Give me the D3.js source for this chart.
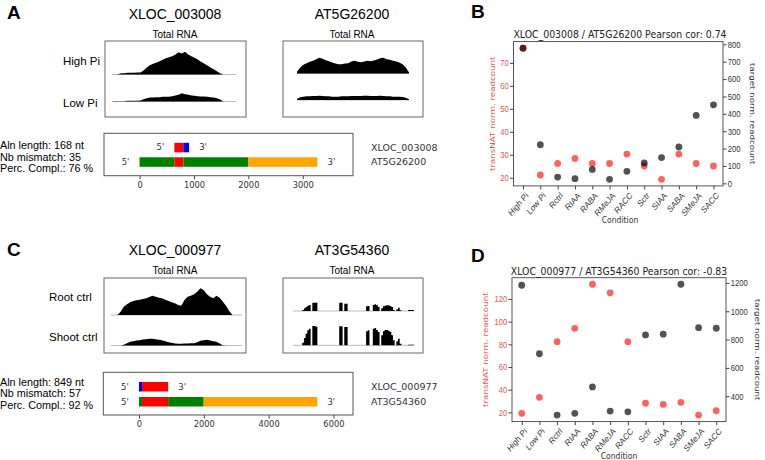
<!DOCTYPE html>
<html>
<head>
<meta charset="utf-8">
<script src="https://cdn.jsdelivr.net/npm/d3@7"></script>
<style>
  body { margin: 0; background: #fff; }
  svg { display: block; }
</style>
</head>
<body>
<div id="fig"></div>
<script>
// ---- data ----
const conditions = ["High Pi", "Low Pi", "Rctrl", "RIAA", "RABA", "RMeJA", "RACC", "Sctr", "SIAA", "SABA", "SMeJA", "SACC"];

// panel B : XLOC_003008 / AT5G26200
const natB = [76.4, 21.2, 26.2, 28.4, 26.2, 26.2, 30.3, 25.1, 19.3, 30.3, 26.2, 25.1];
const targetB = [778, 222, 36, 27, 80, 23, 69, 117, 148, 209, 391, 452];
const natTicksB = [20, 30, 40, 50, 60, 70];
const targetTicksB = [0, 100, 200, 300, 400, 500, 600, 700, 800];

// panel D : XLOC_000977 / AT3G54360
const natD = [19.1, 33.2, 82.3, 94.1, 133, 125.4, 82.3, 28, 27, 28.8, 17.6, 21.4];
const targetD = [1184, 700, 267, 279, 466, 295, 290, 833, 838, 1191, 884, 880];
const natTicksD = [20, 40, 60, 80, 100, 120];
const targetTicksD = [400, 600, 800, 1000, 1200];

// coverage profiles (binned read coverage along each locus)
const covA_natHigh = [0,0,1,4,4,5,5,5,6,6,12,21,28,32,35,40,44,49,52,55,60,67,63,68,60,55,50,45,38,33,27,21,16,10,4,0,0,0,0,0];
const covA_natLow = [0,1,1,1,1,2,2,2,2,3,7,10,12,12,13,13,14,14,14,16,18,20,25,22,20,18,17,16,15,15,14,13,12,10,6,0,0,0,0,0];
const covA_tgtHigh = [5,18,26,31,35,38,43,47,44,40,37,33,30,28,28,30,31,36,38,35,34,36,38,37,39,42,46,47,43,41,38,36,33,28,18,3];
const covA_tgtLow = [3,8,10,11,11,12,12,13,12,11,11,10,10,10,11,11,11,12,12,12,12,13,13,12,12,12,13,12,11,11,10,10,10,9,7,2];

const covC_natRoot = [0,0,0,10,25,32,38,42,44,46,48,50,54,58,55,52,50,46,42,38,35,30,28,45,55,58,62,70,80,75,62,55,50,58,52,40,28,12,0,0,0,0];
const covC_natShoot = [0,0,0,0,2,7,11,13,15,16,18,19,20,20,19,17,16,13,10,8,6,5,5,6,6,7,7,10,14,16,17,15,13,11,6,1,0,0,0,0,0,0];
const covC_tgtRoot = [0,0,0,0,0,0, 3,8,12,16,18,0,25,25,25,0, 0,0,0,0,0,0,0,0,0,0,0,0, 25,25,0,22,22,0, 0,0,0,0,0,0,0,0,0,0,
  14,15,0,0,18,20,17,12,0,8,14,16,17,17,15,12,3,0,5,10,2,0,0,0,0,3,3,3,3];
const covC_tgtShoot = [0,0,0,0,0,0, 8,22,35,45,50,0,58,58,56,0, 0,0,0,0,0,0,0,0,0,0,0,0, 57,57,0,55,55,0, 0,0,0,0,0,0,0,0,0,0,
  42,45,0,0,50,52,46,40,0,30,42,46,46,44,40,30,15,0,12,20,5,0,0,0,0,2,2,2,2];

// alignments: [start, end, kind]
const alnA_nat = [[640, 805, "aligned"], [805, 910, "unaligned"]];
const alnA_tgt = [[0, 640, "cds"], [640, 805, "aligned"], [805, 2000, "cds"], [2000, 3270, "utr"]];
const alnA_ticks = [0, 1000, 2000, 3000];
const alnA_text = ["Aln length: 168 nt", "Nb mismatch: 35", "Perc. Compl.: 76 %"];

const alnC_nat = [[0, 93, "unaligned"], [93, 900, "aligned"]];
const alnC_tgt = [[0, 93, "cds"], [93, 900, "aligned"], [900, 1996, "cds"], [1996, 5503, "utr"]];
const alnC_ticks = [0, 2000, 4000, 6000];
const alnC_text = ["Aln length: 849 nt", "Nb mismatch: 57", "Perc. Compl.: 92 %"];

// ---- drawing ----
const W = 765, H = 460;
const SANS = "'Liberation Sans', Arial, sans-serif";
const MPL = "'DejaVu Sans', sans-serif";
const SX = 0.85; // panels B and D are squeezed horizontally
const RED_TXT = "#e05858";
const intFmt = d3.format("d");

const svg = d3.select("#fig").append("svg")
  .attr("width", W).attr("height", H)
  .style("font-family", SANS);

function letter(x, y, s) {
  svg.append("text").attr("x", x).attr("y", y).text(s)
    .attr("font-size", 19).attr("font-weight", "bold").attr("fill", "#000");
}
letter(7, 18.5, "A");
letter(7, 255.5, "C");
letter(471, 17.5, "B");
letter(471, 262, "D");

// coverage tracks
const cov = d3.scaleLinear().domain([0, 90]).range([0, 30]);

function track(g, vals, x0, x1, base, curve) {
  const x = d3.scaleLinear().domain([0, vals.length - 1]).range([x0, x1]);
  g.append("line").attr("x1", x0).attr("x2", x1).attr("y1", base).attr("y2", base)
    .attr("stroke", "#bbb").attr("stroke-width", 1);
  g.append("path").datum(vals)
    .attr("d", d3.area().x((d, i) => x(i)).y0(base).y1(d => base - cov(d)).curve(curve))
    .attr("fill", "#000");
}

function covPanel(cfg) {
  const g = svg.append("g");
  g.append("text").attr("x", cfg.cx).attr("y", cfg.titleY).attr("text-anchor", "middle")
    .attr("font-size", 14).text(cfg.title);
  g.append("text").attr("x", cfg.cx).attr("y", cfg.titleY + 19).attr("text-anchor", "middle")
    .attr("font-size", 10).text("Total RNA");
  g.append("rect").attr("x", cfg.bx0).attr("y", cfg.by0)
    .attr("width", cfg.bx1 - cfg.bx0).attr("height", cfg.by1 - cfg.by0)
    .attr("fill", "none").attr("stroke", "#666").attr("stroke-width", 1);
  track(g, cfg.top, cfg.tx0, cfg.tx1, cfg.base1, cfg.curve);
  track(g, cfg.bottom, cfg.tx0, cfg.tx1, cfg.base2, cfg.curve);
}

covPanel({ title: "XLOC_003008", cx: 175, titleY: 18.5, bx0: 105, bx1: 246, by0: 41, by1: 117,
  tx0: 111.7, tx1: 236, base1: 74.5, base2: 101.5, top: covA_natHigh, bottom: covA_natLow, curve: d3.curveLinear });
covPanel({ title: "AT5G26200", cx: 352, titleY: 18.5, bx0: 283, bx1: 423, by0: 41, by1: 117,
  tx0: 297, tx1: 409, base1: 73.5, base2: 100, top: covA_tgtHigh, bottom: covA_tgtLow, curve: d3.curveLinear });
covPanel({ title: "XLOC_000977", cx: 175, titleY: 255, bx0: 104, bx1: 246, by0: 278, by1: 353,
  tx0: 111, tx1: 242, base1: 315, base2: 345.5, top: covC_natRoot, bottom: covC_natShoot, curve: d3.curveLinear });
covPanel({ title: "AT3G54360", cx: 352, titleY: 255, bx0: 283, bx1: 423, by0: 278, by1: 353,
  tx0: 293, tx1: 414, base1: 311, base2: 345.3, top: covC_tgtRoot, bottom: covC_tgtShoot, curve: d3.curveStep });

[["High Pi", 63, 65], ["Low Pi", 63, 106.5], ["Root ctrl", 49, 301], ["Shoot ctrl", 49, 341]].forEach(([s, x, y]) => {
  svg.append("text").attr("x", x).attr("y", y).attr("font-size", 11.5).text(s);
});

// alignment panels
const segColor = d3.scaleOrdinal(["aligned", "unaligned", "cds", "utr"], ["#ff0000", "#0000ff", "#008000", "#ffa500"]);

function alnPanel(cfg) {
  const g = svg.append("g");
  const len = d3.max(cfg.tgt, d => d[1]);
  const x = d3.scaleLinear().domain([-0.2 * len, 1.2 * len]).range([cfg.x0, cfg.x1]);

  cfg.text.forEach((s, i) => {
    g.append("text").attr("x", 0).attr("y", cfg.textY + i * 11.6).attr("font-size", 10.8).text(s);
  });

  const ax = g.append("g").attr("transform", `translate(0,${cfg.y1})`)
    .call(d3.axisBottom(x).tickValues(cfg.ticks).tickFormat(intFmt).tickSize(3.5).tickPadding(2.5));
  ax.select(".domain").remove();
  ax.selectAll("line").attr("stroke", "#444");
  ax.selectAll("text").attr("font-family", MPL).attr("font-size", 8.3).attr("fill", "#333");

  g.append("rect").attr("x", cfg.x0).attr("y", cfg.y0)
    .attr("width", cfg.x1 - cfg.x0).attr("height", cfg.y1 - cfg.y0)
    .attr("fill", "none").attr("stroke", "#555").attr("stroke-width", 1);

  [[cfg.nat, cfg.row1], [cfg.tgt, cfg.row2]].forEach(([segs, ry]) => {
    g.selectAll(null).data(segs).join("rect")
      .attr("x", d => x(d[0])).attr("width", d => x(d[1]) - x(d[0]))
      .attr("y", ry).attr("height", 9.5)
      .attr("fill", d => segColor(d[2]));
    const s0 = d3.min(segs, d => d[0]), s1 = d3.max(segs, d => d[1]);
    g.append("text").attr("x", x(s0) - 14).attr("y", ry + 7.5).attr("text-anchor", "middle")
      .attr("font-family", MPL).attr("font-size", 8.5).attr("fill", "#333").text("5'");
    g.append("text").attr("x", x(s1) + 14).attr("y", ry + 7.5).attr("text-anchor", "middle")
      .attr("font-family", MPL).attr("font-size", 8.5).attr("fill", "#333").text("3'");
  });

  g.append("text").attr("x", 371).attr("y", cfg.row1 + 8).attr("font-family", MPL)
    .attr("font-size", 9.5).attr("fill", "#333").text(cfg.natName);
  g.append("text").attr("x", 371).attr("y", cfg.row2 + 8).attr("font-family", MPL)
    .attr("font-size", 9.5).attr("fill", "#333").text(cfg.tgtName);
}

alnPanel({ nat: alnA_nat, tgt: alnA_tgt, ticks: alnA_ticks, text: alnA_text, textY: 149,
  x0: 104, x1: 353, y0: 133.3, y1: 175.7, row1: 142.8, row2: 157.3,
  natName: "XLOC_003008", tgtName: "AT5G26200" });
alnPanel({ nat: alnC_nat, tgt: alnC_tgt, ticks: alnC_ticks, text: alnC_text, textY: 385.7,
  x0: 103.3, x1: 353, y0: 372.3, y1: 415, row1: 382, row2: 397,
  natName: "XLOC_000977", tgtName: "AT3G54360" });

// scatter panels
function padded(v) {
  const e = d3.extent(v), p = (e[1] - e[0]) * 0.05;
  return [e[0] - p, e[1] + p];
}

function squeezed(g, x, y, s, size) {
  return g.append("text")
    .attr("transform", `translate(${x},${y}) scale(${SX},1)`)
    .attr("text-anchor", "middle").attr("font-size", size).text(s);
}

function scatter(cfg) {
  const g = svg.append("g").style("font-family", MPL);
  const x = d3.scaleLinear().domain([-0.55, conditions.length - 0.45]).range([cfg.x0, cfg.x1]);
  const yl = d3.scaleLinear().domain(padded(cfg.nat)).range([cfg.y1, cfg.y0]);
  const yr = d3.scaleLinear().domain(padded(cfg.target)).range([cfg.y1, cfg.y0]);

  const axB = g.append("g").attr("transform", `translate(0,${cfg.y1})`)
    .call(d3.axisBottom(x).tickValues(d3.range(conditions.length)).tickFormat(i => conditions[i]).tickSize(3.5));
  axB.selectAll("text").attr("x", 0).attr("y", 0).attr("dy", "0.35em")
    .attr("text-anchor", "end").attr("font-size", 9).attr("fill", "#333")
    .attr("transform", `translate(3.5,8) scale(${SX},1) rotate(-45)`);

  const axL = g.append("g").attr("transform", `translate(${cfg.x0},0)`)
    .call(d3.axisLeft(yl).tickValues(cfg.natTicks).tickFormat(intFmt).tickSize(3.5).tickPadding(2));
  axL.selectAll("text").attr("font-size", 9).attr("fill", RED_TXT)
    .attr("transform", `scale(${SX},1)`);

  const axR = g.append("g").attr("transform", `translate(${cfg.x1},0)`)
    .call(d3.axisRight(yr).tickValues(cfg.targetTicks).tickFormat(intFmt).tickSize(3.5).tickPadding(2));
  axR.selectAll("text").attr("font-size", 9).attr("fill", "#333")
    .attr("transform", `scale(${SX},1)`);

  [axB, axL, axR].forEach(a => {
    a.select(".domain").remove();
    a.selectAll("line").attr("stroke", "#444");
  });

  g.append("rect").attr("x", cfg.x0).attr("y", cfg.y0)
    .attr("width", cfg.x1 - cfg.x0).attr("height", cfg.y1 - cfg.y0)
    .attr("fill", "none").attr("stroke", "#444").attr("stroke-width", 0.9);

  g.selectAll(null).data(cfg.nat).join("circle")
    .attr("cx", (d, i) => x(i)).attr("cy", d => yl(d)).attr("r", 3.4)
    .attr("fill", "#ff0000").attr("fill-opacity", 0.62);
  g.selectAll(null).data(cfg.target).join("circle")
    .attr("cx", (d, i) => x(i)).attr("cy", d => yr(d)).attr("r", 3.4)
    .attr("fill", "#000").attr("fill-opacity", 0.68);

  squeezed(g, cfg.titleX, cfg.titleY, cfg.title, 11).attr("fill", "#222");
  squeezed(g, cfg.titleX, cfg.condY, "Condition", 9).attr("fill", "#333");
  const cy = (cfg.y0 + cfg.y1) / 2;
  g.append("text").attr("transform", `translate(${cfg.lx},${cy}) rotate(-90) scale(1,${SX})`)
    .attr("text-anchor", "middle").attr("dy", "0.35em").attr("font-size", 8.7)
    .attr("fill", RED_TXT).text("transNAT norm. readcount");
  g.append("text").attr("transform", `translate(${cfg.rx},${cy}) rotate(90) scale(1,${SX})`)
    .attr("text-anchor", "middle").attr("dy", "0.35em").attr("font-size", 8.7)
    .attr("fill", "#333").text("target norm. readcount");
}

scatter({ nat: natB, target: targetB, natTicks: natTicksB, targetTicks: targetTicksB,
  x0: 513.5, x1: 723, y0: 41.6, y1: 185.9,
  title: "XLOC_003008 / AT5G26200 Pearson cor: 0.74", titleX: 620, titleY: 38, condY: 223,
  lx: 492, rx: 753 });
scatter({ nat: natD, target: targetD, natTicks: natTicksD, targetTicks: targetTicksD,
  x0: 512, x1: 726, y0: 277.7, y1: 421.6,
  title: "XLOC_000977 / AT3G54360 Pearson cor: -0.83", titleX: 619, titleY: 275, condY: 459,
  lx: 485, rx: 758 });
</script>
</body>
</html>
